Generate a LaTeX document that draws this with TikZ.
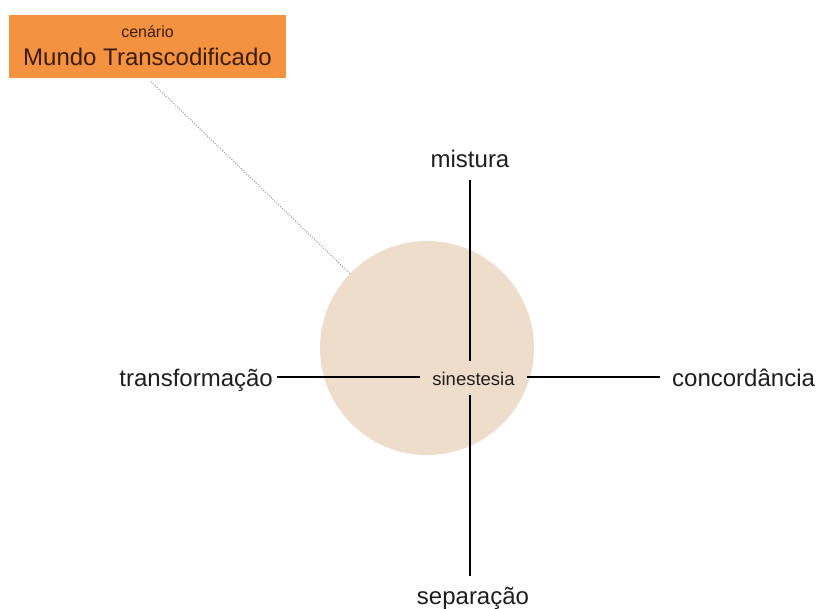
\documentclass[tikz,border=0pt]{standalone}
\usepackage{fontspec}
\setmainfont{Liberation Sans}

\definecolor{discfill}{HTML}{EFDDCC}
\definecolor{scenefill}{HTML}{F4923F}
\definecolor{scenetext}{HTML}{3A1D0E}
\definecolor{labeltext}{HTML}{1E1E1E}
\definecolor{linkdots}{HTML}{A08C8C}

\begin{document}
\begin{tikzpicture}[x=1pt,y=-1pt,
  axislabel/.style={font=\fontsize{24}{28}\selectfont, text=labeltext, inner sep=0pt},
  axisline/.style={line width=1.1pt, black},
  scenebox/.style={fill=scenefill, draw=none, inner sep=0pt,
                   minimum width=277pt, minimum height=63pt},
  scenelabel/.style={text=scenetext, inner sep=0pt, anchor=base},
  link/.style={draw=linkdots, line width=1pt,
               dash pattern=on 1pt off 1.6pt, shorten <=5pt}]

\useasboundingbox (0,0) rectangle (818,608);

% central disc
\node[circle, fill=discfill, minimum size=214pt, inner sep=0pt, outer sep=0pt]
  (disc) at (427,348) {};

% scenario box
\node[scenebox] (scene) at (147.5,46.5) {};
\node[scenelabel, font=\fontsize{16}{19}\selectfont] (scenekind) at (147.5,37) {cenário};
\node[scenelabel, font=\fontsize{24}{28}\selectfont] (scenename) at (147.5,65) {Mundo Transcodificado};

% dotted link from the scenario to the disc
\draw[link] (scene.south) -- (disc);

% axis labels
\node[axislabel, anchor=base, inner ysep=13pt] (mix) at (470,167) {mistura};
\node[axislabel, anchor=base, inner ysep=11pt] (sep) at (473,604) {separação};
\node[axislabel, anchor=base east, inner xsep=4pt] (trans) at (277,386) {transformação};
\node[axislabel, anchor=base west, inner xsep=12pt] (conc) at (660,386) {concordância};
\node[font=\fontsize{18.5}{22}\selectfont, text=labeltext, anchor=base,
      inner xsep=12pt, inner ysep=10pt] (syn) at (473.5,385) {sinestesia};

% vertical axis
\draw[axisline] (mix.south) -- (mix.south |- syn.north);
\draw[axisline] (mix.south |- syn.south) -- (mix.south |- sep.north);

% horizontal axis
\draw[axisline] ([yshift=9pt]trans.base east) coordinate (hl) -- (hl -| syn.west);
\draw[axisline] (syn.east |- hl) -- (hl -| conc.west);

\end{tikzpicture}
\end{document}
